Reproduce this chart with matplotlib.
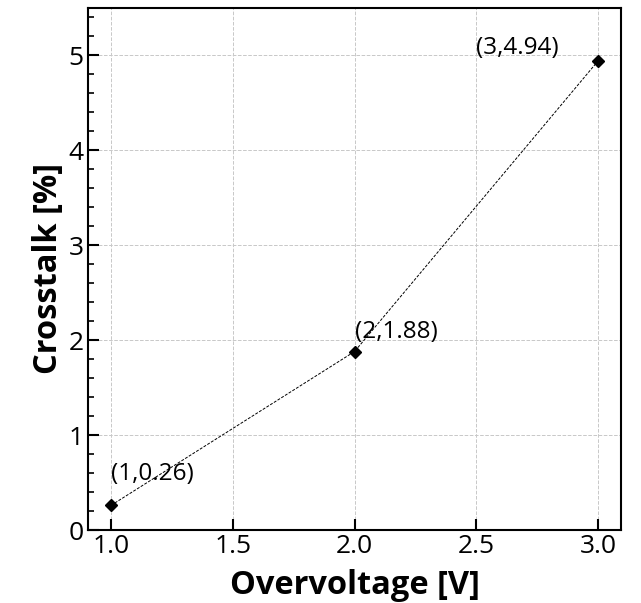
import matplotlib
matplotlib.use("Agg")
import matplotlib.pyplot as plt
from matplotlib.ticker import MultipleLocator

overvoltage = [1, 2, 3]
crosstalk = [0.26, 1.88, 4.94]
labels = ["(1,0.26)", "(2,1.88)", "(3,4.94)"]
label_pos = [(1.0, 0.59), (2.0, 2.09), (2.5, 5.08)]

plt.rcParams['font.family'] = ['Open Sans', 'DejaVu Sans']

fig = plt.figure(figsize=(6.41, 6.03), dpi=100)
ax = fig.add_axes([88/641, 1-530/603, (621-88)/641, (530-8)/603])

ax.plot(overvoltage, crosstalk, linestyle='--', color='black', linewidth=0.7,
        dashes=(3, 1.5), marker='D', markersize=6.5, markerfacecolor='black',
        markeredgecolor='black', zorder=3)

for lab, (tx, ty) in zip(labels, label_pos):
    ax.text(tx, ty, lab, fontsize=17.5, ha='left', va='center', color='black')

ax.set_xlim(0.905, 3.095)
ax.set_ylim(0, 5.5)
ax.yaxis.set_major_locator(MultipleLocator(1))
ax.yaxis.set_minor_locator(MultipleLocator(0.2))
ax.set_xticks([1.0, 1.5, 2.0, 2.5, 3.0])
ax.set_xticklabels(["1.0", "1.5", "2.0", "2.5", "3.0"])

ax.grid(True, which='major', linestyle='--', color='#c8c8c8', linewidth=0.7)
ax.set_axisbelow(True)

ax.tick_params(axis='both', which='major', direction='in', length=8, width=1.5,
               labelsize=19, pad=3)
ax.tick_params(axis='y', which='minor', direction='in', length=4, width=1.2)
ax.tick_params(axis='x', which='minor', length=0)
for s in ax.spines.values():
    s.set_linewidth(1.5)

ax.set_xlabel("Overvoltage [V]", fontsize=23.5, fontweight='bold', labelpad=7)
ax.set_ylabel("Crosstalk [%]", fontsize=23.5, fontweight='bold', labelpad=3)

fig.savefig("out.png", dpi=100)
